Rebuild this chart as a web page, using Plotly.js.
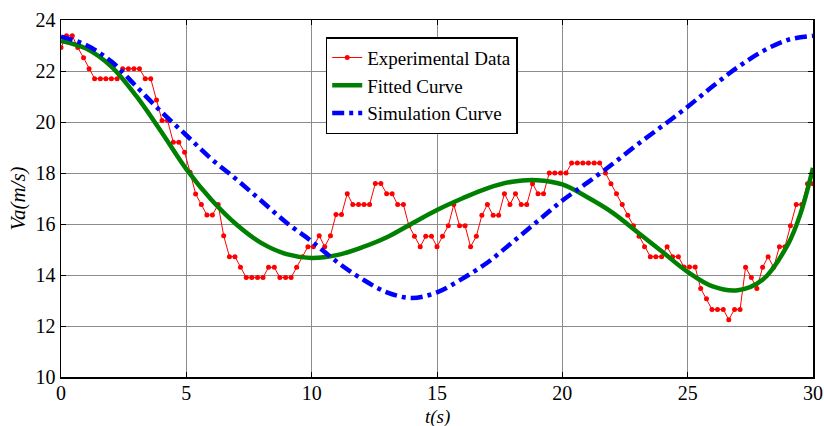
<!DOCTYPE html>
<html><head><meta charset="utf-8">
<script src="https://cdn.plot.ly/plotly-3.0.1.min.js"></script>
<style>html,body{margin:0;padding:0;background:#fff;}#chart{width:824px;height:426px;}</style>
</head><body><div id="chart"></div>
<script>
const expTime = [0.00,0.22,0.45,0.67,0.90,1.12,1.34,1.57,1.79,2.01,2.24,2.46,2.69,2.91,3.13,3.36,3.58,3.81,4.03,4.25,
4.48,4.70,4.93,5.15,5.37,5.60,5.82,6.04,6.27,6.49,6.72,6.94,7.16,7.39,7.61,7.84,8.06,8.28,8.51,8.73,
8.96,9.18,9.40,9.63,9.85,10.07,10.30,10.52,10.75,10.97,11.19,11.42,11.64,11.87,12.09,12.31,12.54,12.76,12.99,13.21,
13.43,13.66,13.88,14.10,14.33,14.55,14.78,15.00,15.22,15.45,15.67,15.90,16.12,16.34,16.57,16.79,17.01,17.24,17.46,17.69,
17.91,18.13,18.36,18.58,18.81,19.03,19.25,19.48,19.70,19.93,20.15,20.37,20.60,20.82,21.04,21.27,21.49,21.72,21.94,22.16,
22.39,22.61,22.84,23.06,23.28,23.51,23.73,23.96,24.18,24.40,24.63,24.85,25.07,25.30,25.52,25.75,25.97,26.19,26.42,26.64,
26.87,27.09,27.31,27.54,27.76,27.99,28.21,28.43,28.66,28.88,29.10,29.33,29.55,29.78,30.00];
const expSpeed = [22.92,23.38,23.38,22.92,22.52,22.09,21.70,21.70,21.70,21.70,21.70,22.09,22.09,22.09,22.09,21.70,21.70,20.86,20.06,20.06,
19.21,19.21,18.81,18.03,17.18,16.76,16.35,16.35,16.76,15.54,14.72,14.72,14.30,13.90,13.90,13.90,13.90,14.30,14.30,13.90,
13.90,13.90,14.30,14.72,15.11,15.11,15.54,15.11,15.54,16.37,16.37,17.19,16.76,16.76,16.76,16.76,17.59,17.59,17.19,17.19,
16.76,16.76,15.93,15.52,15.11,15.52,15.52,15.11,15.52,15.93,16.76,15.93,15.93,15.11,15.52,16.34,16.76,16.34,16.34,17.19,
16.76,17.19,16.76,16.76,17.58,17.19,17.19,18.00,18.00,18.00,18.00,18.39,18.39,18.39,18.39,18.39,18.39,18.00,17.58,17.19,
16.76,16.34,15.93,15.52,15.11,14.72,14.72,14.72,15.11,14.72,14.72,14.31,14.31,14.31,13.47,13.07,12.65,12.65,12.65,12.25,
12.65,12.65,14.30,13.90,13.47,14.30,14.72,14.30,15.11,15.11,15.93,16.76,16.76,17.58,17.58];

const fitTime  = [0,1,2,3,4,5,6,7,8,9,10,11,12,13,14,15,16,17,18,19,20,21,22,23,24,25,26,27,28,29,29.5,30];
const fitSpeed = [23.18,22.88,22.18,21.02,19.62,18.15,16.95,15.98,15.25,14.82,14.67,14.78,15.08,15.48,16.02,16.55,17.00,17.40,17.66,17.72,17.55,17.05,16.45,15.68,14.90,14.12,13.55,13.40,13.82,15.20,16.40,18.20];

const simTime  = [0,1,2,3,4,5,6,7,8,9,10,11,12,13,14,15,16,17,18,19,20,21,22,23,24,25,26,27,28,29,30];
const simSpeed = [23.35,23.02,22.38,21.40,20.40,19.48,18.55,17.75,16.90,16.05,15.32,14.52,13.85,13.32,13.10,13.32,13.85,14.48,15.28,16.10,16.92,17.62,18.35,19.12,19.85,20.60,21.40,22.15,22.78,23.22,23.38];

const xTicks = [0,5,10,15,20,25,30];
const yTicks = [10,12,14,16,18,20,22,24];

const serif = '"Liberation Serif", "Times New Roman", Times, "DejaVu Serif", serif';

const traces = [
  {x: expTime, y: expSpeed, type:'scatter', mode:'lines+markers', name:'Experimental Data',
   line:{color:'#ff0000', width:1}, marker:{color:'#ff0000', size:5}},
  {x: fitTime, y: fitSpeed, type:'scatter', mode:'lines', name:'Fitted Curve',
   line:{color:'#008000', width:4.5, shape:'spline', smoothing:1}},
  {x: simTime, y: simSpeed, type:'scatter', mode:'lines', name:'Simulation Curve',
   line:{color:'#0000ff', width:4.5, shape:'spline', smoothing:1, dash:'12px,5px,4px,5px'}}
];

const axisCommon = {
  ticks:'inside', ticklen:5, tickwidth:1, tickcolor:'#000',
  showline:true, linecolor:'#000', linewidth:1.5, mirror:'ticks',
  showgrid:true, gridcolor:'#8c8c8c', gridwidth:1, zeroline:false,
  tickfont:{family:serif, size:20, color:'#000'}
};

const layout = {
  width:824, height:426,
  margin:{l:61, r:11, t:20, b:49},
  paper_bgcolor:'#fff', plot_bgcolor:'#fff',
  showlegend:true,
  xaxis: Object.assign({}, axisCommon, {range:[0,30], tickvals:xTicks, ticktext:xTicks.map(String),
    ticklabelstandoff:-3}),
  yaxis: Object.assign({}, axisCommon, {range:[10,24], tickvals:yTicks, ticktext:yTicks.map(String),
    title:{text:'<i>Va(m/s)</i>', font:{family:serif, size:21, color:'#000'}, standoff:4}}),
  annotations:[{text:'<i>t(s)</i>', xref:'paper', yref:'paper', x:0.5, y:-0.112,
    xanchor:'center', yanchor:'middle', showarrow:false,
    font:{family:serif, size:19, color:'#000'}}],
  legend:{x:0.352, y:0.952, xanchor:'left', yanchor:'top', bgcolor:'#fff',
    bordercolor:'#000', borderwidth:1.5, font:{family:serif, size:19, color:'#000'},
    itemwidth:30, tracegroupgap:0}
};

Plotly.newPlot('chart', traces, layout, {displayModeBar:false, staticPlot:true});
</script>
</body></html>
